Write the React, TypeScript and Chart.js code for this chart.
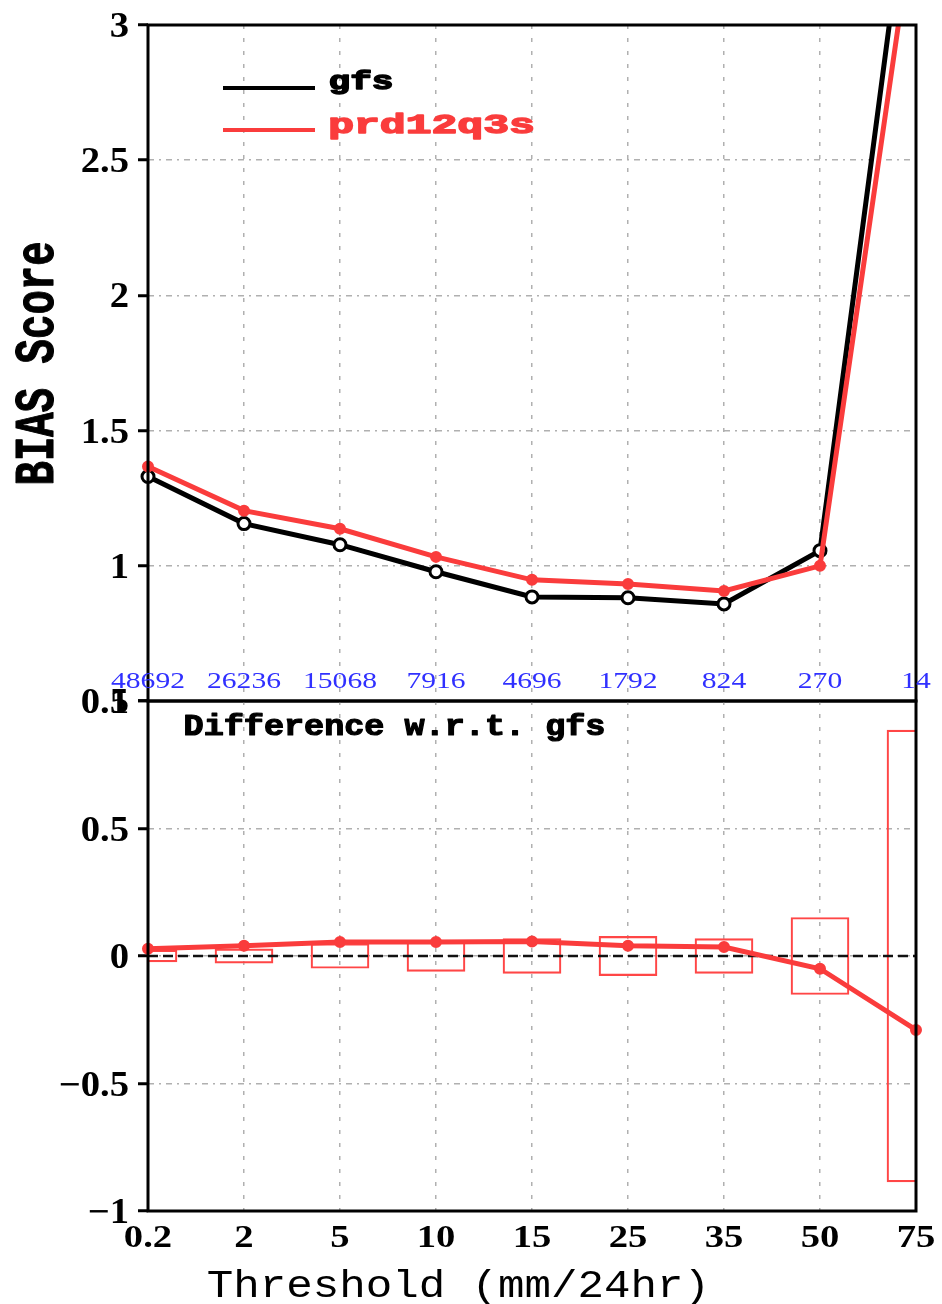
import React, { useEffect, useRef } from 'react';
import { Chart, registerables } from 'chart.js';

Chart.register(...registerables);

// ---------------- data ----------------
const thresholds = ['0.2', '2', '5', '10', '15', '25', '35', '50', '75'];
const obsCounts = ['48692', '26236', '15068', '7916', '4696', '1792', '824', '270', '14'];
const gfsBias = [1.33, 1.156, 1.078, 0.978, 0.885, 0.882, 0.859, 1.056, 3.75];
const prdBias = [1.367, 1.204, 1.137, 1.033, 0.948, 0.933, 0.907, 1.0, 3.45];
const biasDiff = [0.028, 0.04, 0.055, 0.055, 0.057, 0.04, 0.035, -0.05, -0.29];
const diffCI = [0.023, 0.028, 0.048, 0.06, 0.068, 0.077, 0.068, 0.151, 0.886];
const topTicks = [3, 2.5, 2, 1.5, 1, 0.5];
const topTickLabels = ['3', '2.5', '2', '1.5', '1', '0.5'];
const bottomTicks = [1, 0.5, 0, -0.5, -1];
const bottomTickLabels = ['1', '0.5', '0', '\u22120.5', '\u22121'];
const seriesNames = ['gfs', 'prd12q3s'];

// ---------------- layout / style ----------------
const W = 942;
const H = 1304;
const LEFT = 148;
const RIGHT = 916;
const TOP = 25;
const MID = 701;
const BOTTOM = 1211;
const TOP_H = 720;
const BOT_Y = 660;
const BOT_H = H - BOT_Y;

const RED = '#fa3c3c';
const BOX_RED = '#ff4646';
const BLUE = '#3030ff';
const GRID = '#b0b0b0';
const MONO = '"Liberation Mono", "DejaVu Sans Mono", monospace';
const SERIF = '"Liberation Serif", "DejaVu Serif", serif';

function textCap(
  ctx: CanvasRenderingContext2D,
  text: string,
  left: number,
  right: number,
  baseline: number,
  capH: number,
  ref: string,
  weight: string,
  color: string,
  family: string,
  rotate = false,
  stroke = 0
) {
  ctx.save();
  ctx.font = `${weight} 100px ${family}`;
  const m = ctx.measureText(text);
  const inkW = m.actualBoundingBoxLeft + m.actualBoundingBoxRight;
  const r = ctx.measureText(ref);
  const sx = Math.abs(right - left) / inkW;
  const sy = capH / r.actualBoundingBoxAscent;
  if (rotate) {
    ctx.translate(baseline, left);
    ctx.rotate(-Math.PI / 2);
  } else {
    ctx.translate(left, baseline);
  }
  ctx.scale(sx, sy);
  ctx.textAlign = 'left';
  ctx.textBaseline = 'alphabetic';
  ctx.fillStyle = color;
  ctx.fillText(text, m.actualBoundingBoxLeft, 0);
  if (stroke > 0) {
    ctx.strokeStyle = color;
    ctx.lineWidth = stroke / Math.min(sx, sy);
    ctx.lineJoin = 'round';
    ctx.strokeText(text, m.actualBoundingBoxLeft, 0);
  }
  ctx.restore();
}

// fit the ink box of a text into [left,right]x[top,bottom]
function textBox(
  ctx: CanvasRenderingContext2D,
  text: string,
  left: number,
  top: number,
  right: number,
  bottom: number,
  weight: string,
  color: string,
  family: string,
  stroke = 0
) {
  ctx.save();
  ctx.font = `${weight} 100px ${family}`;
  const m = ctx.measureText(text);
  const inkW = m.actualBoundingBoxLeft + m.actualBoundingBoxRight;
  const inkH = m.actualBoundingBoxAscent + m.actualBoundingBoxDescent;
  const sx = (right - left - stroke) / inkW;
  const sy = (bottom - top - stroke) / inkH;
  ctx.translate(left + stroke / 2, top + stroke / 2);
  ctx.scale(sx, sy);
  ctx.textAlign = 'left';
  ctx.textBaseline = 'alphabetic';
  ctx.fillStyle = color;
  ctx.fillText(text, m.actualBoundingBoxLeft, m.actualBoundingBoxAscent);
  if (stroke > 0) {
    ctx.strokeStyle = color;
    ctx.lineWidth = stroke / Math.min(sx, sy);
    ctx.lineJoin = 'round';
    ctx.strokeText(text, m.actualBoundingBoxLeft, m.actualBoundingBoxAscent);
  }
  ctx.restore();
}

function digits(
  ctx: CanvasRenderingContext2D,
  text: string,
  x: number,
  yCenter: number,
  inkW: number,
  digitH: number,
  align: CanvasTextAlign,
  weight: string,
  color: string
) {
  ctx.save();
  ctx.font = `${weight} 100px ${SERIF}`;
  const m0 = ctx.measureText('0');
  const w0 = m0.actualBoundingBoxLeft + m0.actualBoundingBoxRight;
  const h0 = m0.actualBoundingBoxAscent + m0.actualBoundingBoxDescent;
  ctx.translate(x, yCenter + digitH / 2);
  ctx.scale(inkW / w0, digitH / h0);
  ctx.textAlign = align;
  ctx.textBaseline = 'alphabetic';
  ctx.fillStyle = color;
  ctx.fillText(text, 0, 0);
  ctx.restore();
}

const topPlugin = {
  id: 'topDecor',
  afterDraw(chart: any) {
    const ctx: CanvasRenderingContext2D = chart.ctx;
    const { left, right, top, bottom } = chart.chartArea;
    const ys = chart.scales.y;
    const xs = chart.scales.x;
    ctx.save();
    ctx.strokeStyle = '#000';
    ctx.lineWidth = 3;
    ctx.strokeRect(left, top, right - left, bottom - top);
    ctx.restore();
    topTicks.forEach((v, i) => {
      digits(ctx, topTickLabels[i], 129, ys.getPixelForValue(v), 17, 24, 'right', 'bold', '#000');
    });
    obsCounts.forEach((c, i) => {
      digits(ctx, c, xs.getPixelForValue(i), 680, 13, 15, 'center', 'normal', BLUE);
    });
    ctx.save();
    ctx.lineWidth = 4;
    ctx.strokeStyle = '#000';
    ctx.beginPath();
    ctx.moveTo(223, 88);
    ctx.lineTo(315, 88);
    ctx.stroke();
    ctx.strokeStyle = RED;
    ctx.beginPath();
    ctx.moveTo(223, 130);
    ctx.lineTo(315, 130);
    ctx.stroke();
    ctx.restore();
    textBox(ctx, seriesNames[0], 330, 68, 392, 95, 'bold', '#000', MONO, 1.5);
    textBox(ctx, seriesNames[1], 330, 112, 533, 140, 'bold', RED, MONO, 1.5);
    textCap(ctx, 'BIAS Score', 483, 243, 53, 37, 'B', 'bold', '#000', MONO, true, 0.8);
  },
};

const botPlugin = {
  id: 'botDecor',
  afterDatasetDraw(chart: any, args: any) {
    if (args.meta.type !== 'bar') return;
    const ctx: CanvasRenderingContext2D = chart.ctx;
    const { left, right } = chart.chartArea;
    const y0 = chart.scales.y.getPixelForValue(0);
    ctx.save();
    ctx.strokeStyle = '#111';
    ctx.lineWidth = 2.5;
    ctx.setLineDash([10, 5]);
    ctx.beginPath();
    ctx.moveTo(left, y0);
    ctx.lineTo(right, y0);
    ctx.stroke();
    ctx.restore();
  },
  afterDraw(chart: any) {
    const ctx: CanvasRenderingContext2D = chart.ctx;
    const { left, right, top, bottom } = chart.chartArea;
    const ys = chart.scales.y;
    const xs = chart.scales.x;
    ctx.save();
    ctx.strokeStyle = '#000';
    ctx.lineWidth = 3;
    ctx.strokeRect(left, top, right - left, bottom - top);
    ctx.restore();
    bottomTicks.forEach((v, i) => {
      digits(ctx, bottomTickLabels[i], 129, ys.getPixelForValue(v), 17, 24, 'right', 'bold', '#000');
    });
    thresholds.forEach((t, i) => {
      digits(ctx, t, xs.getPixelForValue(i), 1236 - BOT_Y, 17, 22, 'center', 'bold', '#000');
    });
    textBox(ctx, 'Difference w.r.t. gfs', 185, 712 - BOT_Y, 604, 742 - BOT_Y, 'bold', '#000', MONO, 1.2);
    textCap(ctx, 'Threshold (mm/24hr)', 208, 703, 1297 - BOT_Y, 25, 'T', 'normal', '#000', MONO);
  },
};

function topConfig(): any {
  return {
    type: 'line',
    data: {
      labels: thresholds,
      datasets: [
        {
          label: seriesNames[0],
          data: gfsBias,
          borderColor: '#000',
          borderWidth: 5,
          pointRadius: 6,
          pointBorderWidth: 3,
          pointBackgroundColor: '#fff',
          pointBorderColor: '#000',
          order: 1,
          clip: { left: 10, top: 0, right: 0, bottom: 10 },
        },
        {
          label: seriesNames[1],
          data: prdBias,
          borderColor: RED,
          borderWidth: 5,
          pointRadius: 5,
          pointBorderWidth: 2,
          pointBackgroundColor: RED,
          pointBorderColor: RED,
          order: 0,
          clip: { left: 10, top: 0, right: 0, bottom: 10 },
        },
      ],
    },
    options: {
      responsive: false,
      animation: false,
      devicePixelRatio: 1,
      layout: { padding: { left: 0, right: W - RIGHT, top: TOP, bottom: 0 } },
      plugins: { legend: { display: false }, tooltip: { enabled: false } },
      scales: {
        x: {
          type: 'category',
          offset: false,
          grid: { offset: false, color: GRID, lineWidth: 1.5, drawTicks: false },
          border: { display: false, dash: [4, 9] },
          ticks: { display: false },
          afterFit: (s: any) => {
            s.height = TOP_H - MID;
          },
        },
        y: {
          min: 0.5,
          max: 3,
          ticks: { display: false, stepSize: 0.5 },
          grid: { color: GRID, lineWidth: 1.5, drawTicks: true, tickLength: 10, tickColor: '#000', tickWidth: 3 },
          border: { display: false, dash: [6, 5, 2, 5] },
          afterFit: (s: any) => {
            s.width = LEFT;
          },
        },
      },
    },
    plugins: [topPlugin],
  };
}

function botConfig(): any {
  return {
    type: 'line',
    data: {
      labels: thresholds,
      datasets: [
        {
          type: 'bar',
          label: 'interval',
          data: diffCI.map((c) => [-c, c]),
          backgroundColor: 'rgba(0,0,0,0)',
          borderColor: BOX_RED,
          borderWidth: 1.5,
          borderSkipped: false,
          barThickness: 58,
          order: 2,
          clip: 0,
        },
        {
          type: 'line',
          label: 'diff',
          data: biasDiff,
          borderColor: RED,
          borderWidth: 5,
          pointRadius: 5,
          pointBorderWidth: 2,
          pointBackgroundColor: RED,
          pointBorderColor: RED,
          order: 0,
          clip: { left: 10, top: 0, right: 10, bottom: 0 },
        },
      ],
    },
    options: {
      responsive: false,
      animation: false,
      devicePixelRatio: 1,
      layout: { padding: { left: 0, right: W - RIGHT, top: MID - BOT_Y, bottom: 0 } },
      plugins: { legend: { display: false }, tooltip: { enabled: false } },
      scales: {
        x: {
          type: 'category',
          offset: false,
          grid: { offset: false, color: GRID, lineWidth: 1.5, drawTicks: false },
          border: { display: false, dash: [4, 9] },
          ticks: { display: false },
          afterFit: (s: any) => {
            s.height = H - BOTTOM;
          },
        },
        y: {
          min: -1,
          max: 1,
          ticks: { display: false, stepSize: 0.5 },
          grid: { color: GRID, lineWidth: 1.5, drawTicks: true, tickLength: 10, tickColor: '#000', tickWidth: 3 },
          border: { display: false, dash: [6, 5, 2, 5] },
          afterFit: (s: any) => {
            s.width = LEFT;
          },
        },
      },
    },
    plugins: [botPlugin],
  };
}

export default function App() {
  const topRef = useRef<HTMLCanvasElement>(null);
  const botRef = useRef<HTMLCanvasElement>(null);
  useEffect(() => {
    const c1 = new Chart(topRef.current as HTMLCanvasElement, topConfig());
    const c2 = new Chart(botRef.current as HTMLCanvasElement, botConfig());
    return () => {
      c1.destroy();
      c2.destroy();
    };
  }, []);
  return (
    <div style={{ position: 'absolute', left: 0, top: 0, width: W, height: H, background: '#fff', overflow: 'hidden' }}>
      <canvas ref={topRef} width={W} height={TOP_H} style={{ position: 'absolute', left: 0, top: 0, width: W, height: TOP_H }} />
      <canvas ref={botRef} width={W} height={BOT_H} style={{ position: 'absolute', left: 0, top: BOT_Y, width: W, height: BOT_H }} />
    </div>
  );
}
